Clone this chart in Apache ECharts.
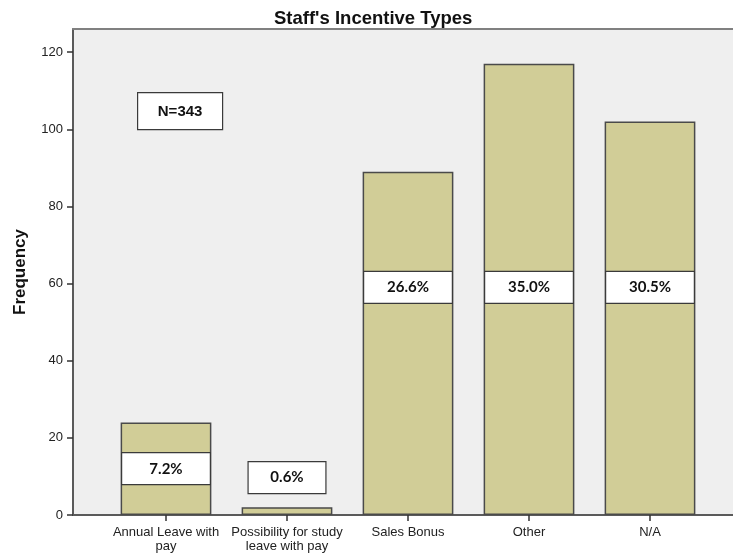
<!DOCTYPE html>
<html>
<head>
<meta charset="utf-8">
<title>Staff's Incentive Types</title>
<script src="https://cdn.jsdelivr.net/npm/echarts@6/dist/echarts.min.js"></script>
<style>
  html, body { margin: 0; padding: 0; background: #ffffff; }
  #chart { width: 733px; height: 554px; }
</style>
</head>
<body>
<div id="chart"></div>
<script>
// Incentive categories and their counts
const categories = ['Annual Leave with\npay', 'Possibility for study\nleave with pay', 'Sales Bonus', 'Other', 'N/A'];
const frequencies = [24, 2, 89, 117, 102];
const sampleSize = 343;

// Frequency axis: labelled ticks and the extent of the plot frame
const yTicks = [0, 20, 40, 60, 80, 100, 120];
const yMin = 0;
const yMax = 126;

// Vertical anchor (in frequency units) of each percentage box
const percentBoxAnchor = [12, 9.7, 59, 59, 59];
const percentBoxWidthRatio = [0.75, 0.66, 0.75, 0.75, 0.75];

const validTotal = frequencies.reduce((a, b) => a + b, 0);
const percentLabels = frequencies.map(v => (v / validTotal * 100).toFixed(1) + '%');

const FRAME_LEFT = 73, FRAME_TOP = 29, FRAME_BOTTOM = 39;
const axisColor = '#5a5a5a';
const textColor = '#222222';

const chart = echarts.init(document.getElementById('chart'), null, { renderer: 'canvas' });

chart.setOption({
  animation: false,
  backgroundColor: '#ffffff',
  title: {
    text: "Staff's Incentive Types",
    left: 269,
    top: 4,
    textStyle: { fontFamily: 'Liberation Sans', fontWeight: 'bold', fontSize: 18.5, color: '#111111' }
  },
  grid: [
    // plot frame with grey background
    { left: FRAME_LEFT, right: 0, top: FRAME_TOP, bottom: FRAME_BOTTOM, show: true,
      backgroundColor: '#efefef', borderWidth: 0, containLabel: false },
    // bar area
    { left: 105.5, right: 22.5, top: FRAME_TOP, bottom: FRAME_BOTTOM, containLabel: false }
  ],
  xAxis: [
    { gridIndex: 0, type: 'value', min: 0, max: 1, position: 'bottom',
      axisLine: { show: true, lineStyle: { color: axisColor, width: 2 } },
      axisTick: { show: false }, axisLabel: { show: false }, splitLine: { show: false } },
    { gridIndex: 0, type: 'value', min: 0, max: 1, position: 'top',
      axisLine: { show: true, lineStyle: { color: '#808080', width: 2 } },
      axisTick: { show: false }, axisLabel: { show: false }, splitLine: { show: false } },
    { gridIndex: 1, type: 'category', data: categories, boundaryGap: true,
      axisLine: { show: false },
      axisTick: { show: true, alignWithLabel: true, length: 6, lineStyle: { color: '#333333', width: 1.5 } },
      axisLabel: { interval: 0, margin: 10, fontFamily: 'Liberation Sans', fontSize: 13,
        lineHeight: 14.5, color: textColor },
      splitLine: { show: false } }
  ],
  yAxis: [
    { gridIndex: 0, type: 'value', min: yMin, max: yMax,
      name: 'Frequency', nameLocation: 'middle', nameGap: 44,
      nameTextStyle: { fontFamily: 'Liberation Sans', fontWeight: 'bold', fontSize: 17, color: '#111111' },
      axisLine: { show: true, lineStyle: { color: axisColor, width: 2 } },
      axisTick: { show: true, length: 6, customValues: yTicks, lineStyle: { color: '#333333', width: 1.5 } },
      axisLabel: { margin: 10, customValues: yTicks, fontFamily: 'Liberation Sans', fontSize: 13, color: textColor },
      splitLine: { show: false } },
    { gridIndex: 1, type: 'value', min: yMin, max: yMax, show: false,
      splitLine: { show: false } }
  ],
  series: [
    {
      type: 'bar',
      xAxisIndex: 2,
      yAxisIndex: 1,
      data: frequencies,
      barWidth: '75%',
      itemStyle: { color: '#d1cd97', borderColor: '#4a4a4a', borderWidth: 1.5 }
    },
    {
      // white percentage boxes
      type: 'custom',
      xAxisIndex: 2,
      yAxisIndex: 1,
      data: percentBoxAnchor.map((y, i) => [i, y]),
      z: 5,
      renderItem: function (params, api) {
        const i = params.dataIndex;
        const c = api.coord([api.value(0), api.value(1)]);
        const band = api.size([1, 0])[0];
        const w = band * percentBoxWidthRatio[i] - 2;
        const h = 32;
        return {
          type: 'group',
          children: [
            { type: 'rect', shape: { x: c[0] - w / 2, y: c[1] - h / 2, width: w, height: h },
              style: { fill: '#ffffff', stroke: '#3a3a3a', lineWidth: 1.2 } },
            { type: 'text', style: { x: c[0], y: c[1], text: percentLabels[i], align: 'center',
                verticalAlign: 'middle', fontFamily: 'Lato', fontWeight: 'bold', fontSize: 15, fill: '#111111' } }
          ]
        };
      }
    }
  ],
  graphic: [
    {
      type: 'group', left: 137, top: 92,
      children: [
        { type: 'rect', shape: { x: 0, y: 0, width: 85, height: 37 },
          style: { fill: '#ffffff', stroke: '#3a3a3a', lineWidth: 1.2 } },
        { type: 'text', style: { x: 42.5, y: 19, text: 'N=' + sampleSize, align: 'center', verticalAlign: 'middle',
            fontFamily: 'Liberation Sans', fontWeight: 'bold', fontSize: 15, fill: '#111111' } }
      ]
    }
  ]
});
</script>
</body>
</html>
